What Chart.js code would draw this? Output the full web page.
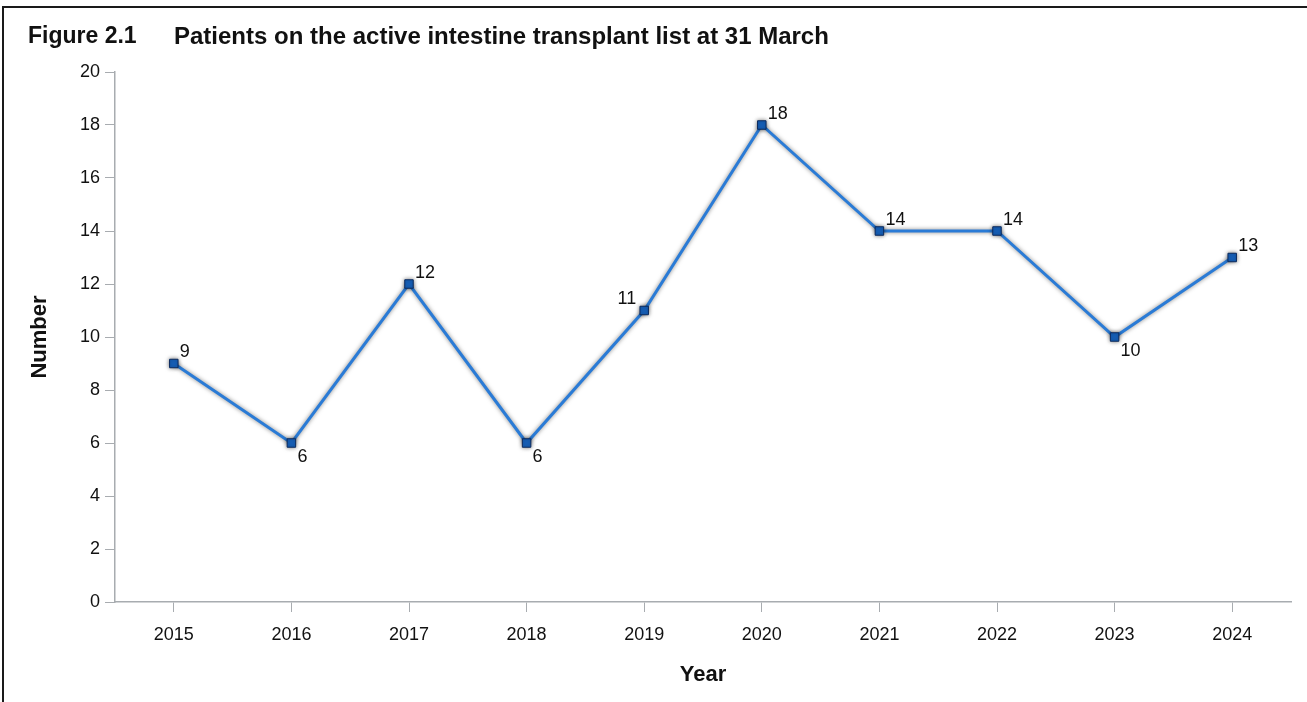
<!DOCTYPE html>
<html>
<head>
<meta charset="utf-8">
<script src="https://cdn.jsdelivr.net/npm/chart.js@4.4.1/dist/chart.umd.min.js"></script>
<style>
  html, body { margin: 0; padding: 0; background: #fff; overflow: hidden; }
  #wrap { position: relative; width: 1307px; height: 702px; }
  #frame { position: absolute; left: 2px; top: 6px; width: 1400px; height: 800px;
           border-top: 2px solid #1a1a1a; border-left: 2px solid #1a1a1a; }
  canvas { position: absolute; left: 0; top: 0; }
</style>
</head>
<body>
<div id="wrap">
  <div id="frame"></div>
  <canvas id="chart1" width="1307" height="702"></canvas>
</div>
<script>
const years = ['2015', '2016', '2017', '2018', '2019', '2020', '2021', '2022', '2023', '2024'];
const patients = [9, 6, 12, 6, 11, 18, 14, 14, 10, 13];
// where each value label sits relative to its point
const labelSide = ['ne', 'se', 'ne', 'se', 'nw', 'ne', 'ne', 'ne', 'se', 'ne'];

const font = "'Liberation Sans', Arial, sans-serif";

const extras = {
  id: 'extras',
  beforeDatasetDraw(chart) {
    const ctx = chart.ctx;
    ctx.save();
    ctx.shadowColor = 'rgba(0,0,0,0.5)';
    ctx.shadowBlur = 4;
  },
  afterDatasetDraw(chart) {
    chart.ctx.restore();
  },
  afterDraw(chart) {
    const ctx = chart.ctx;
    const area = chart.chartArea;
    ctx.save();
    ctx.fillStyle = '#111';
    ctx.textBaseline = 'middle';
    // title
    ctx.textAlign = 'left';
    ctx.font = 'bold 23px ' + font;
    ctx.fillText('Figure 2.1', 28, 37);
    ctx.font = 'bold 24px ' + font;
    ctx.fillText('Patients on the active intestine transplant list at 31 March', 174, 37);
    // axis titles
    ctx.font = 'bold 22px ' + font;
    ctx.textAlign = 'center';
    ctx.fillText('Year', (area.left + area.right) / 2, 675);
    ctx.save();
    ctx.translate(40, (area.top + area.bottom) / 2);
    ctx.rotate(-Math.PI / 2);
    ctx.fillText('Number', 0, 0);
    ctx.restore();
    // value labels
    ctx.font = '18px ' + font;
    const pts = chart.getDatasetMeta(0).data;
    pts.forEach((p, i) => {
      const s = labelSide[i];
      const txt = String(patients[i]);
      let x = p.x, y = p.y;
      if (s === 'ne') { ctx.textAlign = 'left'; x += 6; y -= 11; }
      if (s === 'se') { ctx.textAlign = 'left'; x += 6; y += 14; }
      if (s === 'nw') { ctx.textAlign = 'right'; x -= 8; y -= 11; }
      ctx.fillText(txt, x, y);
    });
    ctx.restore();
  }
};

const config = {
  type: 'line',
  data: {
    labels: years,
    datasets: [{
      data: patients,
      borderColor: '#2a7bd6',
      borderWidth: 3,
      tension: 0,
      pointStyle: 'rect',
      pointRadius: 6,
      pointBackgroundColor: '#1763bf',
      pointBorderColor: '#0b2a5e',
      pointBorderWidth: 1
    }]
  },
  options: {
    responsive: false,
    animation: false,
    layout: { padding: { top: 72, right: 16, left: 0, bottom: 0 } },
    plugins: { legend: { display: false }, tooltip: { enabled: false } },
    scales: {
      x: {
        offset: true,
        grid: { drawOnChartArea: false, drawTicks: true, tickLength: 10, color: '#a8acb0', offset: false },
        border: { color: '#a8acb0', width: 1.5 },
        ticks: { color: '#111', font: { family: font, size: 18 }, padding: 12, autoSkip: false, maxRotation: 0 },
        afterFit(scale) { scale.height = 100; }
      },
      y: {
        min: 0,
        max: 20,
        ticks: { stepSize: 2, color: '#111', font: { family: font, size: 18 }, padding: 5 },
        grid: { drawOnChartArea: false, drawTicks: true, tickLength: 10, color: '#a8acb0' },
        border: { color: '#a8acb0', width: 1.5 },
        afterFit(scale) { scale.width = 115; }
      }
    }
  },
  plugins: [extras]
};

const myChart = new Chart(document.getElementById('chart1'), config);
</script>
</body>
</html>
